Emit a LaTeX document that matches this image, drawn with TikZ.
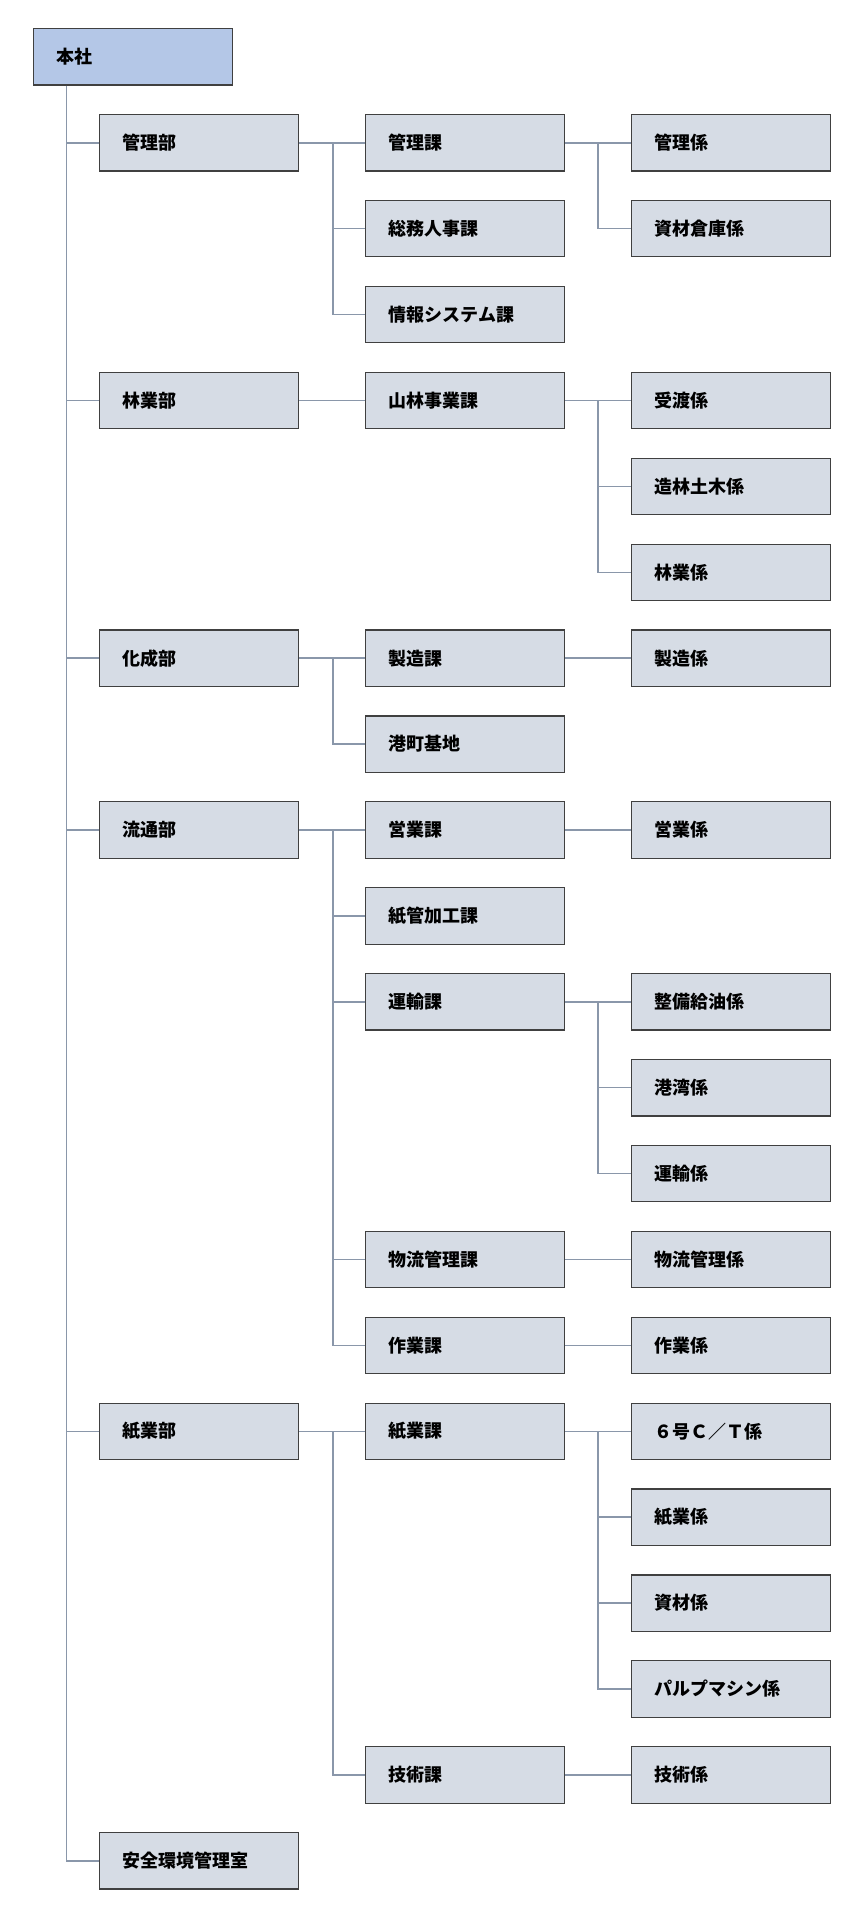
\documentclass[tikz,border=0pt]{standalone}
\usepackage{fontspec}
\setmainfont{Noto Sans CJK JP}
\definecolor{hqfill}{HTML}{B4C7E7}
\definecolor{boxfill}{HTML}{D6DCE5}
\definecolor{boxline}{HTML}{404040}
\definecolor{connline}{HTML}{8A97AA}
\begin{document}
\begin{tikzpicture}[x=0.5pt,y=-0.5pt,
  unitbox/.style={draw=boxline, fill=boxfill, line width=0.6pt, anchor=north west,
    minimum height=28.2pt, text width=76.2pt, inner xsep=11.6pt, inner ysep=0pt, align=left,
    font=\fontsize{9pt}{10pt}\selectfont\bfseries},
  hqbox/.style={unitbox, fill=hqfill},
  conn/.style={draw=connline, line width=0.75pt}]
\useasboundingbox (0,0) rectangle (865,1920);
% columns: 99, 365, 631
\node[hqbox] (hq) at (33,28) {本社};
% column 1
\node[unitbox] (kanri) at (99,{114+85.9*0}) {管理部};
\node[unitbox] (ringyo) at (99,{114+85.9*3}) {林業部};
\node[unitbox] (kasei) at (99,{114+85.9*6}) {化成部};
\node[unitbox] (ryutsu) at (99,{114+85.9*8}) {流通部};
\node[unitbox] (shigyo) at (99,{114+85.9*15}) {紙業部};
\node[unitbox] (anzen) at (99,{114+85.9*20}) {安全環境管理室};
% column 2
\node[unitbox] (kanrika) at (365,{114+85.9*0}) {管理課};
\node[unitbox] (somu) at (365,{114+85.9*1}) {総務人事課};
\node[unitbox] (joho) at (365,{114+85.9*2}) {情報システム課};
\node[unitbox] (sanrin) at (365,{114+85.9*3}) {山林事業課};
\node[unitbox] (seizoka) at (365,{114+85.9*6}) {製造課};
\node[unitbox] (minato) at (365,{114+85.9*7}) {港町基地};
\node[unitbox] (eigyoka) at (365,{114+85.9*8}) {営業課};
\node[unitbox] (shikan) at (365,{114+85.9*9}) {紙管加工課};
\node[unitbox] (unyuka) at (365,{114+85.9*10}) {運輸課};
\node[unitbox] (butsuryuka) at (365,{114+85.9*13}) {物流管理課};
\node[unitbox] (sagyoka) at (365,{114+85.9*14}) {作業課};
\node[unitbox] (shigyoka) at (365,{114+85.9*15}) {紙業課};
\node[unitbox] (gijutsuka) at (365,{114+85.9*19}) {技術課};
% column 3
\node[unitbox] (kanrikakari) at (631,{114+85.9*0}) {管理係};
\node[unitbox] (shizaisoko) at (631,{114+85.9*1}) {資材倉庫係};
\node[unitbox] (ukewatashi) at (631,{114+85.9*3}) {受渡係};
\node[unitbox] (zorin) at (631,{114+85.9*4}) {造林土木係};
\node[unitbox] (ringyokakari) at (631,{114+85.9*5}) {林業係};
\node[unitbox] (seizokakari) at (631,{114+85.9*6}) {製造係};
\node[unitbox] (eigyokakari) at (631,{114+85.9*8}) {営業係};
\node[unitbox] (seibi) at (631,{114+85.9*10}) {整備給油係};
\node[unitbox] (kowan) at (631,{114+85.9*11}) {港湾係};
\node[unitbox] (unyukakari) at (631,{114+85.9*12}) {運輸係};
\node[unitbox] (butsuryukakari) at (631,{114+85.9*13}) {物流管理係};
\node[unitbox] (sagyokakari) at (631,{114+85.9*14}) {作業係};
\node[unitbox] (rokugo) at (631,{114+85.9*15}) {６号Ｃ／Ｔ係};
\node[unitbox] (shigyokakari) at (631,{114+85.9*16}) {紙業係};
\node[unitbox] (shizai) at (631,{114+85.9*17}) {資材係};
\node[unitbox] (pulp) at (631,{114+85.9*18}) {パルプマシン係};
\node[unitbox] (gijutsukakari) at (631,{114+85.9*19}) {技術係};
% trunk
\draw[conn] (hq.south west) ++(33.5,0) |- (anzen.west);
\foreach \c in {kanri,ringyo,kasei,ryutsu,shigyo} \draw[conn] (\c.west) -- ++(-33,0);
% 管理部
\draw[conn] (kanri.east) -- (kanrika.west);
\draw[conn] (kanri.east) ++(34,0) |- (joho.west);
\draw[conn] (somu.west) -- ++(-33,0);
% 管理課
\draw[conn] (kanrika.east) -- (kanrikakari.west);
\draw[conn] (kanrika.east) ++(33,0) |- (shizaisoko.west);
% 林業部
\draw[conn] (ringyo.east) -- (sanrin.west);
\draw[conn] (sanrin.east) -- (ukewatashi.west);
\draw[conn] (sanrin.east) ++(33,0) |- (ringyokakari.west);
\draw[conn] (zorin.west) -- ++(-33,0);
% 化成部
\draw[conn] (kasei.east) -- (seizoka.west);
\draw[conn] (kasei.east) ++(34,0) |- (minato.west);
\draw[conn] (seizoka.east) -- (seizokakari.west);
% 流通部
\draw[conn] (ryutsu.east) -- (eigyoka.west);
\draw[conn] (ryutsu.east) ++(34,0) |- (sagyoka.west);
\foreach \c in {shikan,unyuka,butsuryuka} \draw[conn] (\c.west) -- ++(-33,0);
\draw[conn] (eigyoka.east) -- (eigyokakari.west);
\draw[conn] (unyuka.east) -- (seibi.west);
\draw[conn] (unyuka.east) ++(33,0) |- (unyukakari.west);
\draw[conn] (kowan.west) -- ++(-33,0);
\draw[conn] (butsuryuka.east) -- (butsuryukakari.west);
\draw[conn] (sagyoka.east) -- (sagyokakari.west);
% 紙業部
\draw[conn] (shigyo.east) -- (shigyoka.west);
\draw[conn] (shigyo.east) ++(34,0) |- (gijutsuka.west);
\draw[conn] (shigyoka.east) -- (rokugo.west);
\draw[conn] (shigyoka.east) ++(33,0) |- (pulp.west);
\foreach \c in {shigyokakari,shizai} \draw[conn] (\c.west) -- ++(-33,0);
\draw[conn] (gijutsuka.east) -- (gijutsukakari.west);
\end{tikzpicture}
\end{document}
